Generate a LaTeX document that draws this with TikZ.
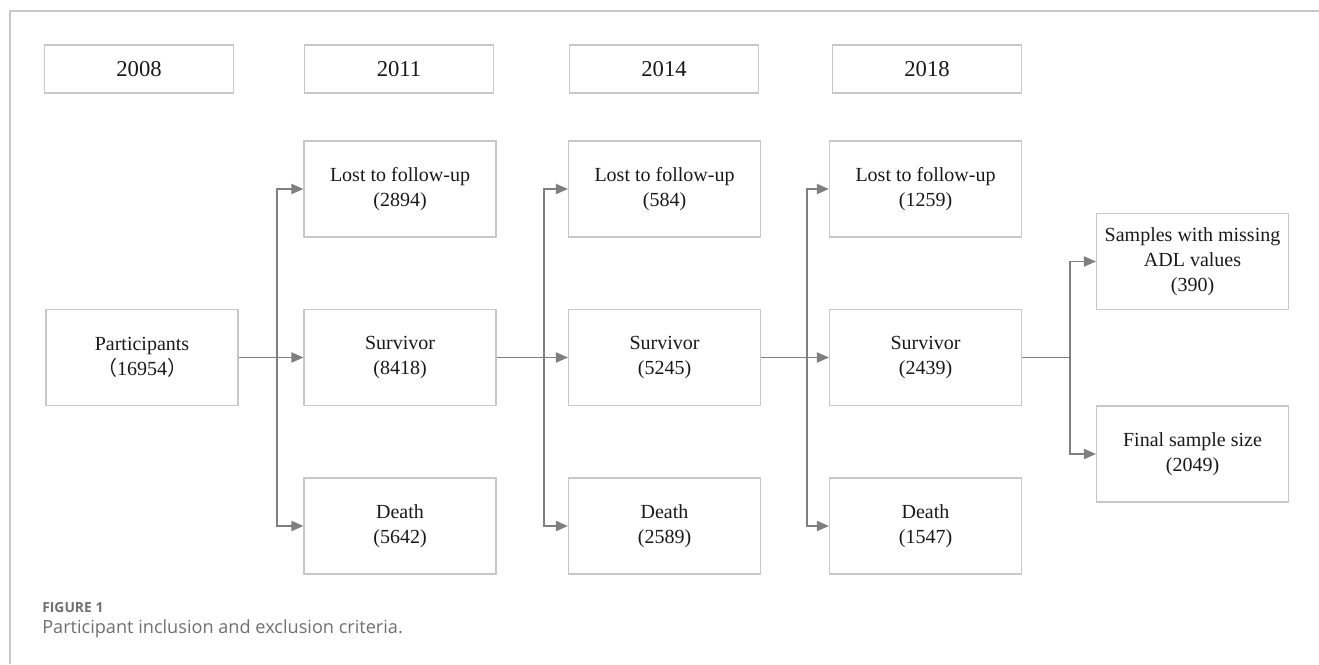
\documentclass[tikz,border=0pt]{standalone}
\usepackage{fontspec}
\setmainfont{Liberation Serif}
\newfontfamily\cjk{Noto Sans CJK SC}
\newfontfamily\capfont{Open Sans}
\usetikzlibrary{arrows.meta}
\definecolor{boxline}{HTML}{C8C8C8}
\definecolor{arrline}{HTML}{7F7F7F}
\definecolor{capgray}{HTML}{707070}
\definecolor{frame}{HTML}{C8C8C8}
\tikzset{
  stagebox/.style={draw=boxline, line width=0.8pt, minimum width=144pt, minimum height=72pt,
    align=center, font=\fontsize{15pt}{18.75pt}\selectfont, text=black!90, inner sep=2pt},
  yearbox/.style={draw=boxline, line width=0.8pt, minimum width=142pt, minimum height=36pt,
    align=center, font=\fontsize{17pt}{20pt}\selectfont, text=black!90},
  link/.style={draw=arrline, line width=1.4pt},
  arr/.style={link, -{Triangle[length=9pt,width=7.5pt]}},
}
\begin{document}
\begin{tikzpicture}[x=0.75pt,y=-0.75pt]
\useasboundingbox (0,0) rectangle (1319,664);
\draw[frame, line width=1.1pt] (10,664) -- (10,11) -- (1319,11);
% year boxes
\node[yearbox] (y08) at (139,69) {2008};
\node[yearbox] (y11) at (399,69) {2011};
\node[yearbox] (y14) at (664,69) {2014};
\node[yearbox] (y18) at (927,69) {2018};
% stages
\node[stagebox] (p)  at (142,357.5) {Participants\\{\cjk （}16954{\cjk ）}};
\node[stagebox] (l1) at (400,189) {Lost to follow-up\\(2894)};
\node[stagebox] (s1) at (400,357.5) {Survivor\\(8418)};
\node[stagebox] (d1) at (400,526) {Death\\(5642)};
\node[stagebox] (l2) at (664.5,189) {Lost to follow-up\\(584)};
\node[stagebox] (s2) at (664.5,357.5) {Survivor\\(5245)};
\node[stagebox] (d2) at (664.5,526) {Death\\(2589)};
\node[stagebox] (l3) at (925.5,189) {Lost to follow-up\\(1259)};
\node[stagebox] (s3) at (925.5,357.5) {Survivor\\(2439)};
\node[stagebox] (d3) at (925.5,526) {Death\\(1547)};
\node[stagebox] (sm) at (1192.5,261.5) {Samples with missing\\ADL values\\(390)};
\node[stagebox] (fs) at (1192.5,454) {Final sample size\\(2049)};
% junctions
\coordinate (j1) at (277,357.5);
\coordinate (j2) at (544,357.5);
\coordinate (j3) at (807,357.5);
\coordinate (j4) at (1070,357.5);
% connectors
\draw[arr] (p.east) -- (s1.west);
\draw[arr] (j1) |- (l1.west);
\draw[arr] (j1) |- (d1.west);
\draw[arr] (s1.east) -- (s2.west);
\draw[arr] (j2) |- (l2.west);
\draw[arr] (j2) |- (d2.west);
\draw[arr] (s2.east) -- (s3.west);
\draw[arr] (j3) |- (l3.west);
\draw[arr] (j3) |- (d3.west);
\draw[link] (s3.east) -- (j4);
\draw[arr] (j4) |- (sm.west);
\draw[arr] (j4) |- (fs.west);
% caption
\node[anchor=base west, inner sep=0, text=capgray, font=\capfont\fontsize{10.4pt}{12pt}\selectfont\bfseries] (cap1) at (42,612) {FIGURE 1};
\node[anchor=base west, inner sep=0, text=capgray, font=\capfont\fontsize{13.6pt}{16pt}\selectfont] (cap2) at (42,633) {Participant inclusion and exclusion criteria.};
\end{tikzpicture}
\end{document}
